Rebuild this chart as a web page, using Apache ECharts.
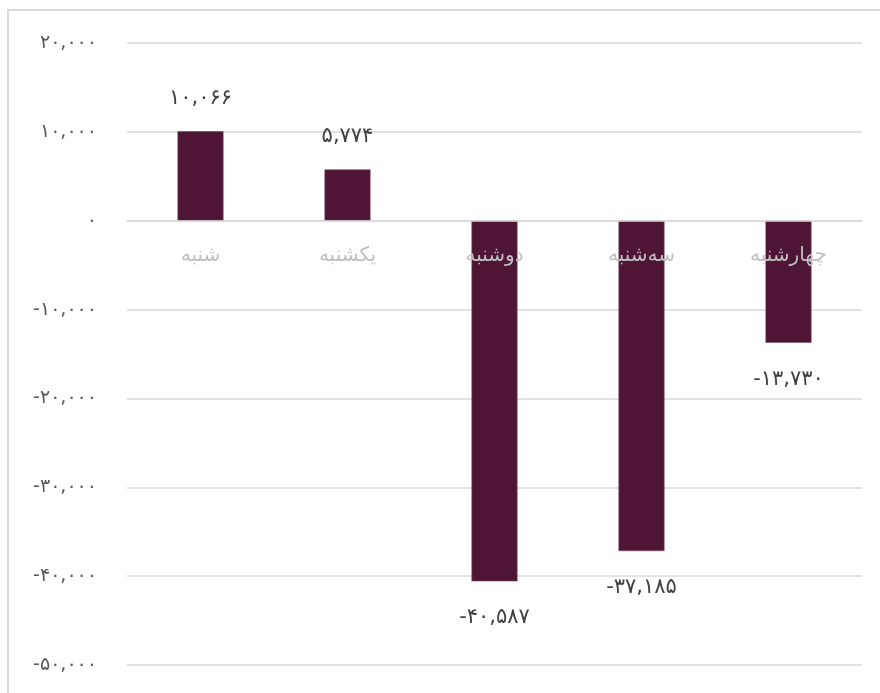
<!DOCTYPE html>
<html>
<head>
<meta charset="utf-8">
<script src="https://cdn.jsdelivr.net/npm/echarts@6/dist/echarts.min.js"></script>
<style>
  html, body { margin: 0; padding: 0; background: #fff; }
  #frame { position: absolute; left: 7px; top: 9px; width: 900px; height: 720px;
           border-left: 2px solid #d9d9d9; border-top: 2px solid #d9d9d9; }
  #chart { position: absolute; left: 0; top: 0; width: 880px; height: 693px; }
</style>
</head>
<body>
<div id="frame"></div>
<div id="chart"></div>
<script>
  // روزهای هفته
  const days = ['شنبه', 'یکشنبه', 'دوشنبه', 'سه‌شنبه', 'چهارشنبه']
  const values = [10066, 5774, -40587, -37185, -13730]
  const yMin = -50000
  const yMax = 20000
  const yStep = 10000

  // اعداد فارسی با جداکننده هزارگان
  function faNum(v) {
    const digits = '۰۱۲۳۴۵۶۷۸۹'
    const s = Math.abs(v).toString().replace(/\B(?=(\d{3})+(?!\d))/g, ',')
    const fa = s.replace(/\d/g, d => digits[d])
    return (v < 0 ? '-' : '') + fa
  }

  const chart = echarts.init(document.getElementById('chart'))
  const font = 'DejaVu Sans'
  const gridTop = 43
  const gridBottom = 28
  const gridHeight = 693 - gridTop - gridBottom
  // محور دسته‌ها روی خط صفر
  const zeroOffset = -gridHeight * (0 - yMin) / (yMax - yMin)

  chart.setOption({
    animation: false,
    grid: {left: 127, right: 18, top: gridTop, bottom: gridBottom, containLabel: false, outerBoundsMode: 'none'},
    xAxis: {
      type: 'category',
      data: days,
      offset: zeroOffset,
      axisLine: {show: true, onZero: false, lineStyle: {color: '#d9d9d9', width: 1.5}},
      axisTick: {show: false},
      axisLabel: {
        color: '#bfbfbf',
        fontSize: 20,
        fontFamily: font,
        margin: 25
      },
      z: 10
    },
    yAxis: {
      type: 'value',
      min: yMin,
      max: yMax,
      interval: yStep,
      axisLine: {show: false},
      axisTick: {show: false},
      splitLine: {lineStyle: {color: '#d9d9d9', width: 1.5}},
      axisLabel: {
        color: '#595959',
        fontSize: 19,
        fontFamily: font,
        margin: 30,
        formatter: v => faNum(v)
      }
    },
    series: [
      {
        type: 'bar',
        // مقدار منفی: برچسب زیر میله
        data: values.map(v => ({
          value: v,
          label: {position: v < 0 ? 'bottom' : 'top', distance: v < 0 ? 26 : 22}
        })),
        barWidth: 46,
        z: 2,
        itemStyle: {color: '#4e1534', borderColor: '#7d4a66', borderWidth: 0.6},
        label: {
          show: true,
          color: '#404040',
          fontSize: 21,
          fontFamily: font,
          formatter: p => faNum(p.value)
        }
      }
    ]
  })
</script>
</body>
</html>
